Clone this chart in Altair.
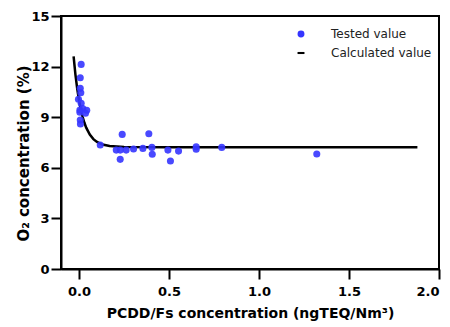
import altair as alt
import pandas as pd

# Tested values
tested_x = [0.012, 0.007, 0.007, 0.010, -0.003, 0.012, 0.005, 0.021, 0.043, 0.036,
            0.005, 0.007, 0.008, 0.118, 0.207, 0.229, 0.240, 0.229, 0.262, 0.303,
            0.355, 0.388, 0.405, 0.407, 0.494, 0.508, 0.553, 0.651, 0.651, 0.793, 1.321]
tested_y = [12.13, 11.34, 10.71, 10.45, 10.06, 9.82, 9.43, 9.52, 9.41, 9.23,
            9.30, 8.83, 8.60, 7.35, 7.05, 7.05, 7.98, 6.50, 7.05, 7.11,
            7.15, 8.02, 7.21, 6.80, 7.05, 6.40, 6.99, 7.25, 7.10, 7.21, 6.82]

# Calculated value curve
calc_x = [-0.03, -0.02, -0.01, 0.00, 0.01, 0.02, 0.03, 0.04, 0.06, 0.08,
          0.10, 0.13, 0.17, 0.25, 0.50, 1.00, 1.88]
calc_y = [12.60, 11.54, 10.69, 10.01, 9.46, 9.02, 8.67, 8.38, 7.97, 7.70,
          7.53, 7.38, 7.29, 7.23, 7.22, 7.22, 7.22]

x_ticks = [0.0, 0.5, 1.0, 1.5, 2.0]
y_ticks = [0, 3, 6, 9, 12, 15]
series_names = ["Tested value", "Calculated value"]

pts = pd.DataFrame({"x": tested_x, "y": tested_y, "series": "Tested value"})
crv = pd.DataFrame({"x": calc_x, "y": calc_y})

xs = alt.Scale(domain=[-0.1, 2.0], nice=False)
ys = alt.Scale(domain=[0, 15], nice=False)
cs = alt.Scale(domain=series_names, range=["#3535ff", "#000000"])
ss = alt.Scale(domain=series_names, range=["circle", "M-1,-0.3L1,-0.3L1,0.3L-1,0.3Z"])

x_axis = alt.Axis(values=x_ticks, format=".1f", title="PCDD/Fs concentration (ngTEQ/Nm³)",
                  labelPadding=6, titleFontSize=14, titleBaseline="alphabetic", titleY=48)
y_axis = alt.Axis(values=y_ticks, format="d", title="O₂ concentration (%)",
                  labelPadding=2, titleFontSize=15, titleBaseline="alphabetic",
                  titleX=-33, titleY=137)

leg = dict(title=None, orient="none", legendX=234, legendY=12,
           symbolSize=48, labelFontSize=12, labelFont="DejaVu Sans",
           labelColor="#222222", labelOffset=24, rowPadding=7,
           symbolOpacity=1, symbolStrokeWidth=0)

points = alt.Chart(pts).mark_point(filled=True, size=50, opacity=0.9).encode(
    x=alt.X("x:Q", scale=xs, axis=x_axis),
    y=alt.Y("y:Q", scale=ys, axis=y_axis),
    color=alt.Color("series:N", scale=cs, legend=alt.Legend(**leg)),
    shape=alt.Shape("series:N", scale=ss, legend=alt.Legend(**leg)),
)

line = alt.Chart(crv).mark_line(strokeWidth=2.5, color="black").encode(
    x=alt.X("x:Q", scale=xs),
    y=alt.Y("y:Q", scale=ys),
)

chart = alt.layer(line, points).properties(
    width=378, height=253,
    autosize=alt.AutoSizeParams(type="none"),
    padding={"left": 53, "top": 8, "right": 3, "bottom": 56},
).configure_view(
    stroke="black", strokeWidth=2
).configure_axis(
    grid=False, domainColor="black", domainWidth=2, tickColor="black", tickWidth=2,
    tickSize=10, labelFont="DejaVu Sans", labelFontWeight="bold", labelFontSize=13,
    labelColor="black", titleFont="DejaVu Sans", titleFontWeight="bold",
    titleColor="black"
)

chart.save("out.html", embed_options={"renderer": "svg", "actions": False})
